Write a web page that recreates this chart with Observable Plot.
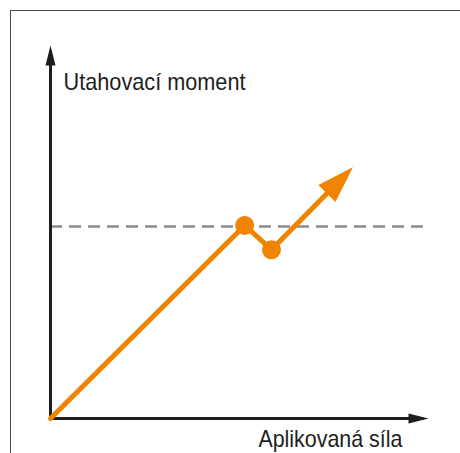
<!DOCTYPE html>
<html>
<head>
<meta charset="utf-8">
<script src="https://cdn.jsdelivr.net/npm/d3@7"></script>
<script src="https://cdn.jsdelivr.net/npm/@observablehq/plot@0.6"></script>
<style>
  html, body { margin: 0; padding: 0; background: #fff; overflow: hidden; }
  #wrap { position: relative; width: 460px; height: 453px; }
  #border {
    position: absolute; left: 10px; top: 10px; width: 600px; height: 600px;
    border-left: 1px solid #4a4a4a; border-top: 1px solid #4a4a4a;
    pointer-events: none; z-index: 2;
  }
  #chart { position: absolute; left: 0; top: 0; }
</style>
</head>
<body>
<div id="wrap"><div id="chart"></div><div id="border"></div></div>
<script>
// Torque vs. applied force: rises, drops at the release point, rises again
const curveX = [0, 52.2, 59.4, 74.3];
const curveY = [0, 52.6, 46.0, 61.3];
const knotX = [52.2, 59.4];
const knotY = [52.6, 46.0];
const thresholdY = 52.3;
const thresholdEnd = 101.6;
const axisEnd = 100;
const yLabel = "Utahovací moment";
const xLabel = "Aplikovaná síla";
const yLabelPos = [3.5, 89.4];
const xLabelPos = [94.6, -7.9];

const orange = "#f08300";
const ink = "#1e1e1e";

const curve = curveX.map((x, i) => ({x, y: curveY[i]}));
const knots = knotX.map((x, i) => ({x, y: knotY[i]}));
const axes = [{x: 0, y: axisEnd}, {x: 0, y: 0}, {x: axisEnd, y: 0}];

// Filled triangular arrowhead whose tip sits `ahead` px past the vertex
function arrowHead(len, half, ahead) {
  return (color, context) => {
    const ns = "http://www.w3.org/2000/svg";
    const m = context.document.createElementNS(ns, "marker");
    m.setAttribute("markerUnits", "userSpaceOnUse");
    m.setAttribute("markerWidth", "1");
    m.setAttribute("markerHeight", "1");
    m.setAttribute("orient", "auto-start-reverse");
    m.setAttribute("overflow", "visible");
    const p = context.document.createElementNS(ns, "path");
    p.setAttribute("d", `M${ahead - len},${-half}L${ahead},0L${ahead - len},${half}Z`);
    p.setAttribute("fill", color);
    p.setAttribute("stroke", "none");
    m.appendChild(p);
    return m;
  };
}

const axisHead = arrowHead(20, 5, 6);

const chart = Plot.plot({
  width: 460,
  height: 453,
  marginLeft: 50,
  marginRight: 38,
  marginTop: 51,
  marginBottom: 35,
  x: {domain: [0, 100], axis: null},
  y: {domain: [0, 100], axis: null},
  style: {fontFamily: "'Liberation Sans', Arial, Helvetica, sans-serif", background: "transparent"},
  marks: [
    Plot.ruleY([thresholdY], {
      x1: 0, x2: thresholdEnd,
      stroke: "#8c8c8c", strokeWidth: 2.5, strokeDasharray: "12,7"
    }),
    Plot.line(axes, {
      x: "x", y: "y", stroke: ink, strokeWidth: 3,
      strokeLinejoin: "miter", markerStart: axisHead, markerEnd: axisHead
    }),
    Plot.line(curve, {
      x: "x", y: "y", stroke: orange, strokeWidth: 5,
      strokeLinejoin: "round", markerEnd: arrowHead(37, 12, 37)
    }),
    Plot.dot(knots, {x: "x", y: "y", r: 9.5, fill: orange}),
    Plot.text([yLabel], {
      x: yLabelPos[0], y: yLabelPos[1], text: d => d,
      textAnchor: "start", lineAnchor: "bottom", fontSize: 24, fill: ink
    }),
    Plot.text([xLabel], {
      x: xLabelPos[0], y: xLabelPos[1], text: d => d,
      textAnchor: "end", lineAnchor: "bottom", fontSize: 24, fill: ink
    })
  ]
});

// Narrow the label glyphs to a condensed width
const labelWidths = new Map([[yLabel, 182], [xLabel, 144]]);
d3.select(chart).selectAll("text").each(function () {
  const w = labelWidths.get(this.textContent);
  if (w) {
    this.setAttribute("textLength", w);
    this.setAttribute("lengthAdjust", "spacingAndGlyphs");
  }
});

document.getElementById("chart").appendChild(chart);
</script>
</body>
</html>
